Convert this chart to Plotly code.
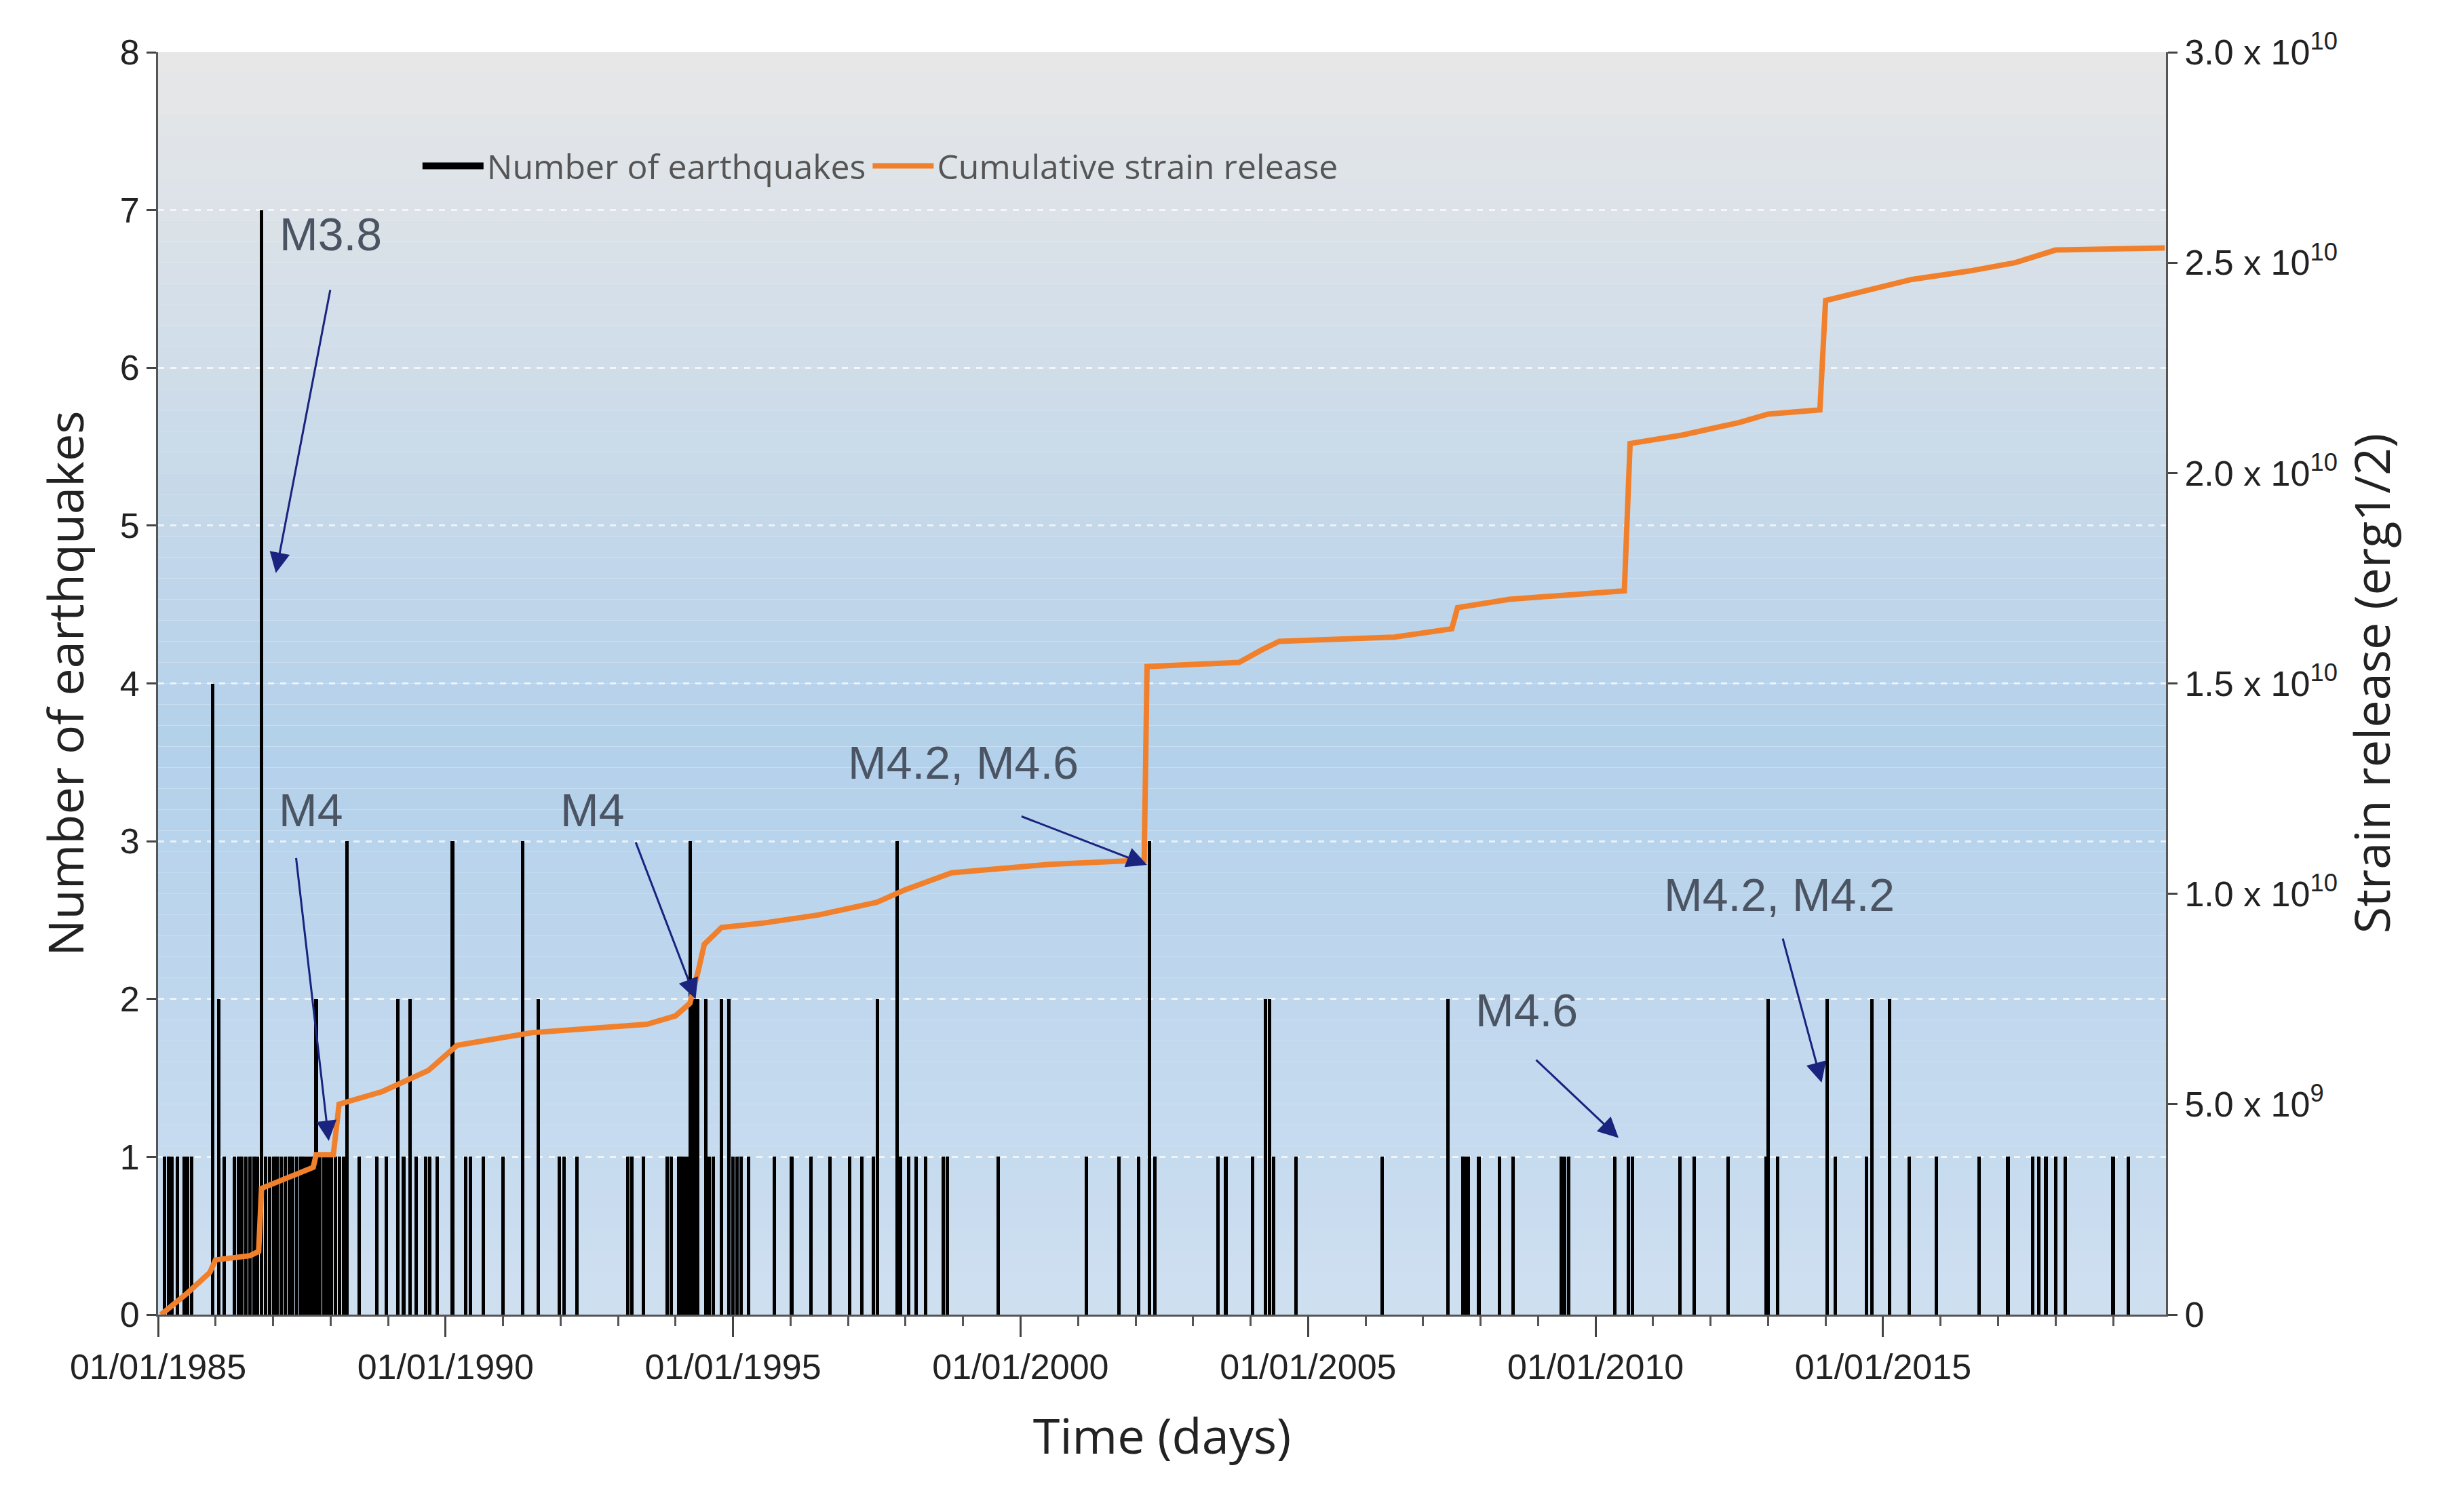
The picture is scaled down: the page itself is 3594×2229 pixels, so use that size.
import plotly.graph_objects as go
import pandas as pd
import numpy as np

# Earthquake counts: (decimal year, count)
eq_years = [1985.11,1985.18,1985.24,1985.34,1985.45,1985.51,1985.58,1985.95,1986.06,1986.15,1986.33,1986.40,1986.46,1986.53,
            1986.60,1986.67,1986.73,1986.80,1986.87,1986.94,1987.01,1987.07,1987.14,1987.21,1987.28,1987.34,1987.41,1987.48,
            1987.55,1987.62,1987.68,1987.75,1987.82,1987.89,1987.95,1988.02,1988.09,1988.16,1988.23,1988.29,1988.50,1988.81,
            1988.97,1989.17,1989.27,1989.38,1989.49,1989.65,1989.72,1989.85,1990.12,1990.35,1990.43,1990.66,1991.00,1991.34,
            1991.61,1991.98,1992.06,1992.29,1993.17,1993.24,1993.44,1993.85,1993.92,1994.05,1994.12,1994.19,1994.25,1994.32,
            1994.39,1994.53,1994.59,1994.66,1994.80,1994.93,1995.00,1995.07,1995.14,1995.27,1995.72,1996.02,1996.36,1996.69,
            1997.03,1997.24,1997.44,1997.51,1997.85,1997.91,1998.05,1998.18,1998.35,1998.66,1998.73,1999.61,2001.14,2001.71,
            2002.05,2002.24,2002.34,2003.43,2003.57,2004.04,2004.26,2004.33,2004.40,2004.79,2006.29,2007.43,2007.69,2007.74,
            2007.79,2007.97,2008.33,2008.57,2009.40,2009.46,2009.53,2010.33,2010.57,2010.64,2011.47,2011.71,2012.31,2012.97,
            2013.00,2013.17,2014.03,2014.17,2014.71,2014.81,2015.11,2015.46,2015.93,2016.67,2017.17,2017.60,2017.71,2017.83,
            2018.00,2018.17,2019.00,2019.26]
eq_counts = [1,1,1,1,1,1,1,4,2,1,1,1,1,1,
             1,1,1,7,1,1,1,1,1,1,1,1,1,1,
             1,1,1,2,1,1,1,1,1,1,1,3,1,1,
             1,2,1,2,1,1,1,1,3,1,1,1,1,3,
             2,1,1,1,1,1,1,1,1,1,1,1,3,2,
             2,2,1,1,2,2,1,1,1,1,1,1,1,1,
             1,1,1,2,3,1,1,1,1,1,1,1,1,1,
             1,3,1,1,1,1,2,2,1,1,1,2,1,1,
             1,1,1,1,1,1,1,1,1,1,1,1,1,1,
             2,1,2,1,1,2,2,1,1,1,1,1,1,1,
             1,1,1,1]

# Cumulative strain release (x 1e10 erg^1/2)
strain_years = [1985.05,1985.5,1985.9,1986.0,1986.6,1986.75,1986.8,1987.7,1987.75,1988.05,1988.15,1988.9,1989.7,1990.2,
                1991.5,1992.5,1993.5,1994.0,1994.25,1994.4,1994.5,1994.8,1995.5,1996.5,1997.5,1998.0,1998.8,2000.5,2002.15,
                2002.2,2003.8,2004.2,2004.5,2006.5,2007.5,2007.6,2008.5,2009.5,2010.5,2010.6,2011.5,2012.5,2013.0,2013.9,
                2014.0,2014.6,2015.5,2016.5,2017.3,2018.0,2019.9]
strain_e10 = [0,0.05,0.1,0.13,0.14,0.15,0.30,0.35,0.38,0.38,0.5,0.53,0.58,0.64,
              0.67,0.68,0.69,0.71,0.74,0.82,0.88,0.92,0.93,0.95,0.98,1.01,1.05,1.07,1.08,
              1.54,1.55,1.58,1.6,1.61,1.63,1.68,1.7,1.71,1.72,2.07,2.09,2.12,2.14,2.15,
              2.41,2.43,2.46,2.48,2.5,2.53,2.535]

tick_years = [1985,1990,1995,2000,2005,2010,2015]
right_ticks = [0,5e9,1e10,1.5e10,2e10,2.5e10,3e10]
right_text = ["0","5.0 x 10<sup>9</sup>","1.0 x 10<sup>10</sup>","1.5 x 10<sup>10</sup>",
              "2.0 x 10<sup>10</sup>","2.5 x 10<sup>10</sup>","3.0 x 10<sup>10</sup>"]

def ydate(y):
    y = np.asarray(y, dtype=float)
    base = pd.to_datetime((np.floor(y)).astype(int).astype(str) + "-01-01")
    return base + pd.to_timedelta((y - np.floor(y)) * 365.25, unit="D")

def d1(y):
    return ydate([y])[0]

FONT = "Liberation Sans Narrow, Liberation Sans, Arial"
fig = go.Figure()
fig.add_trace(go.Bar(x=ydate(eq_years), y=eq_counts, width=22*86400000, marker_color="black",
                     marker_line_width=0, name="Number of earthquakes", showlegend=False))
fig.add_trace(go.Scatter(x=[None], y=[None], mode="lines", line=dict(color="black", width=16),
                         name="Number of earthquakes"))
fig.add_trace(go.Scatter(x=ydate(strain_years), y=np.array(strain_e10)*1e10, mode="lines",
                         line=dict(color="#f0802c", width=8), name="Cumulative strain release", yaxis="y2"))

shapes = []
n = 60
def col(t):
    stops = [(0, (207, 224, 241)), (0.45, (180, 209, 235)), (1, (232, 232, 232))]
    for (a, ca), (b, cb) in zip(stops[:-1], stops[1:]):
        if a <= t <= b:
            f = (t - a) / (b - a)
            return "rgb(%d,%d,%d)" % tuple(int(ca[i] + (cb[i] - ca[i]) * f) for i in range(3))
for i in range(n):
    shapes.append(dict(type="rect", xref="paper", yref="paper", x0=0, x1=1, y0=i/n, y1=(i+1)/n,
                       fillcolor=col((i+0.5)/n), line_width=0, layer="below"))

fig.update_layout(
    width=3594, height=2229, shapes=shapes,
    margin=dict(l=225, r=409, t=69, b=299),
    paper_bgcolor="white", plot_bgcolor="rgba(0,0,0,0)",
    font=dict(family=FONT, size=50, color="#222"),
    bargap=0, showlegend=True,
    legend=dict(orientation="h", x=0.13, y=0.91, xanchor="left", yanchor="middle",
                bgcolor="rgba(0,0,0,0)", font=dict(size=50, color="#555", family="Open Sans"), itemwidth=90),
    xaxis=dict(type="date", range=[d1(1985.0), d1(2019.92)], tickvals=[d1(y) for y in tick_years],
               ticktext=["01/01/%d" % y for y in tick_years], ticks="outside", ticklen=30, tickwidth=3,
               showline=True, linecolor="#555", linewidth=3, showgrid=False,
               minor=dict(tickvals=[d1(y) for y in range(1985, 2020)], ticks="outside", ticklen=14, tickwidth=3, tickcolor="#555"),
               title=dict(text="Time (days)", font=dict(size=72, family="Open Sans"), standoff=50), tickfont=dict(size=52)),
    yaxis=dict(range=[0, 8], dtick=1, ticks="outside", ticklen=14, tickwidth=3, showline=True, linecolor="#555",
               linewidth=3, gridcolor="rgba(255,255,255,0.7)", griddash="dash", gridwidth=3, zeroline=False,
               title=dict(text="Number of earthquakes", font=dict(size=72, family="Open Sans"), standoff=30), tickfont=dict(size=52)),
    yaxis2=dict(range=[0, 3e10], overlaying="y", side="right", tickvals=right_ticks, ticktext=right_text,
                ticks="outside", ticklen=14, tickwidth=3, showline=True, linecolor="#555", linewidth=3,
                showgrid=False, zeroline=False, tickfont=dict(size=52),
                title=dict(text="Strain release (erg1/2)", font=dict(size=72, family="Open Sans"))),
)

ann = [("M3.8", 1988.0, 6.85, 1988.0, 6.5, 1987.05, 4.7),
       ("M4", 1987.65, 3.2, 1987.4, 2.9, 1987.97, 1.1),
       ("M4", 1992.55, 3.2, 1993.3, 3.0, 1994.35, 2.0),
       ("M4.2, M4.6", 1999.0, 3.5, 2000.0, 3.16, 2002.2, 2.85),
       ("M4.6", 2008.8, 1.93, 2008.95, 1.62, 2010.4, 1.12),
       ("M4.2, M4.2", 2013.2, 2.66, 2013.25, 2.39, 2013.93, 1.47)]
for t, tx, ty, ax_, ay_, hx, hy in ann:
    fig.add_annotation(x=d1(tx), y=ty, text=t, showarrow=False, font=dict(size=68, color="#4a5462", family="Liberation Sans"))
    fig.add_annotation(x=d1(hx), y=hy, ax=d1(ax_), ay=ay_, axref="x", ayref="y", text="", showarrow=True,
                       arrowhead=2, arrowsize=2, arrowwidth=3, arrowcolor="#1a237e")

fig.write_html("out.html")
